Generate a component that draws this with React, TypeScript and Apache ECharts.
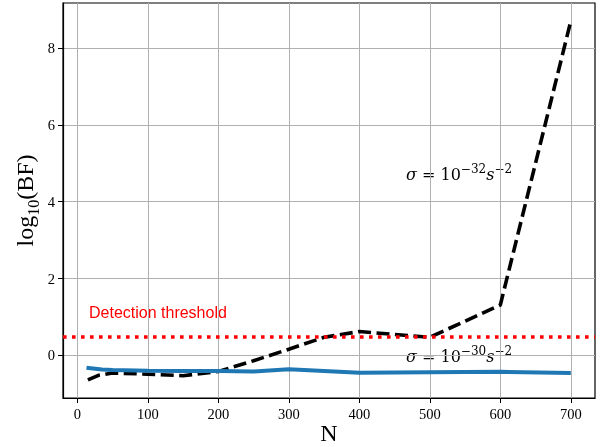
import React, { useEffect, useRef } from "react";
import * as echarts from "echarts";

const nBlack = [15, 30, 50, 100, 150, 200, 250, 300, 350, 400, 500, 600, 700];
const logBFBlack = [-0.64, -0.52, -0.46, -0.49, -0.53, -0.42, -0.14, 0.16, 0.47, 0.62, 0.47, 1.31, 8.7];
const nBlue = [13, 35, 50, 100, 150, 200, 250, 300, 400, 500, 600, 700];
const logBFBlue = [-0.32, -0.37, -0.38, -0.4, -0.41, -0.41, -0.42, -0.36, -0.45, -0.44, -0.43, -0.46];
const threshold = 0.477;
const xTicks = [0, 100, 200, 300, 400, 500, 600, 700];
const yTicks = [0, 2, 4, 6, 8];
const xRange = [-20.3, 734.3];
const yRange = [-1.11, 9.17];

const serif = "Liberation Serif";
const math = "DejaVu Serif";

export default function App() {
  const ref = useRef<HTMLDivElement>(null);
  useEffect(() => {
    const chart = echarts.init(ref.current!, null, { renderer: "svg" });
    const mathRich = (color: string) => ({
      m: { fontFamily: math, fontSize: 16, color, lineHeight: 19, verticalAlign: "bottom" },
      i: { fontFamily: math, fontSize: 16, color, fontStyle: "italic", lineHeight: 19, verticalAlign: "bottom" },
      s: { fontFamily: math, fontSize: 12, color, lineHeight: 12, verticalAlign: "top" },
    });
    chart.setOption({
      animation: false,
      grid: {
        left: 63,
        top: 3,
        right: 14,
        bottom: 49,
        show: true,
        borderColor: "#000",
        borderWidth: 1.2,
        backgroundColor: "transparent",
        outerBoundsMode: "none",
        containLabel: false,
      },
      xAxis: {
        type: "value",
        min: xRange[0],
        max: xRange[1],
        name: "N",
        nameLocation: "middle",
        nameGap: 23,
        nameMoveOverlap: false,
        nameTextStyle: { fontFamily: serif, fontSize: 24, color: "#000", lineHeight: 24 },
        axisLine: { show: true, onZero: false, lineStyle: { color: "#000", width: 1.2 } },
        axisTick: { show: true, length: 5, lineStyle: { color: "#000", width: 1 }, customValues: xTicks },
        axisLabel: { fontFamily: serif, fontSize: 14.5, color: "#000", margin: 8, customValues: xTicks },
        splitLine: { show: true, lineStyle: { color: "#b0b0b0", width: 1 } },
      },
      yAxis: {
        type: "value",
        min: yRange[0],
        max: yRange[1],
        name: "{a|log}{b|10}{a|(BF)}",
        nameLocation: "middle",
        nameGap: 22,
        nameRotate: 90,
        nameMoveOverlap: false,
        nameTextStyle: {
          fontFamily: serif,
          fontSize: 24,
          color: "#000",
          rich: {
            a: { fontFamily: serif, fontSize: 24, color: "#000", lineHeight: 28, verticalAlign: "top" },
            b: { fontFamily: serif, fontSize: 16, color: "#000", lineHeight: 16, verticalAlign: "bottom" },
          },
        },
        axisLine: { show: true, onZero: false, lineStyle: { color: "#000", width: 1.2 } },
        axisTick: { show: true, length: 5, lineStyle: { color: "#000", width: 1 }, customValues: yTicks },
        axisLabel: { fontFamily: serif, fontSize: 14.5, color: "#000", margin: 8, customValues: yTicks },
        splitLine: { show: true, lineStyle: { color: "#b0b0b0", width: 1 } },
      },
      series: [
        {
          type: "line",
          data: nBlack.map((n, i) => [n, logBFBlack[i]]),
          symbol: "none",
          lineStyle: { color: "#000", width: 3.6, type: [13, 5.5], cap: "butt" },
          z: 2,
        },
        {
          type: "line",
          data: nBlue.map((n, i) => [n, logBFBlue[i]]),
          symbol: "none",
          lineStyle: { color: "#1f77b4", width: 4 },
          z: 3,
        },
        {
          type: "line",
          data: [
            [xRange[0], threshold],
            [xRange[1], threshold],
          ],
          symbol: "none",
          lineStyle: { color: "#ff0000", width: 3.6, type: [3.6, 5.4], cap: "butt" },
          z: 4,
        },
      ],
      graphic: [
        {
          type: "text",
          left: 89,
          top: 304,
          style: { text: "Detection threshold", fontFamily: "Liberation Sans", fontSize: 16, fill: "#ff0000" },
        },
        {
          type: "text",
          left: 406,
          top: 163,
          style: {
            text: "{i|σ}{m| = 10}{s|−32}{i|s}{s|−2}",
            rich: mathRich("#000"),
          },
        },
        {
          type: "text",
          left: 406,
          top: 345,
          style: {
            text: "{i|σ}{m| = 10}{s|−30}{i|s}{s|−2}",
            rich: mathRich("#1f77b4"),
          },
        },
      ],
    });
    return () => chart.dispose();
  }, []);
  return <div ref={ref} style={{ position: "fixed", left: 0, top: 0, width: 609, height: 447 }} />;
}
